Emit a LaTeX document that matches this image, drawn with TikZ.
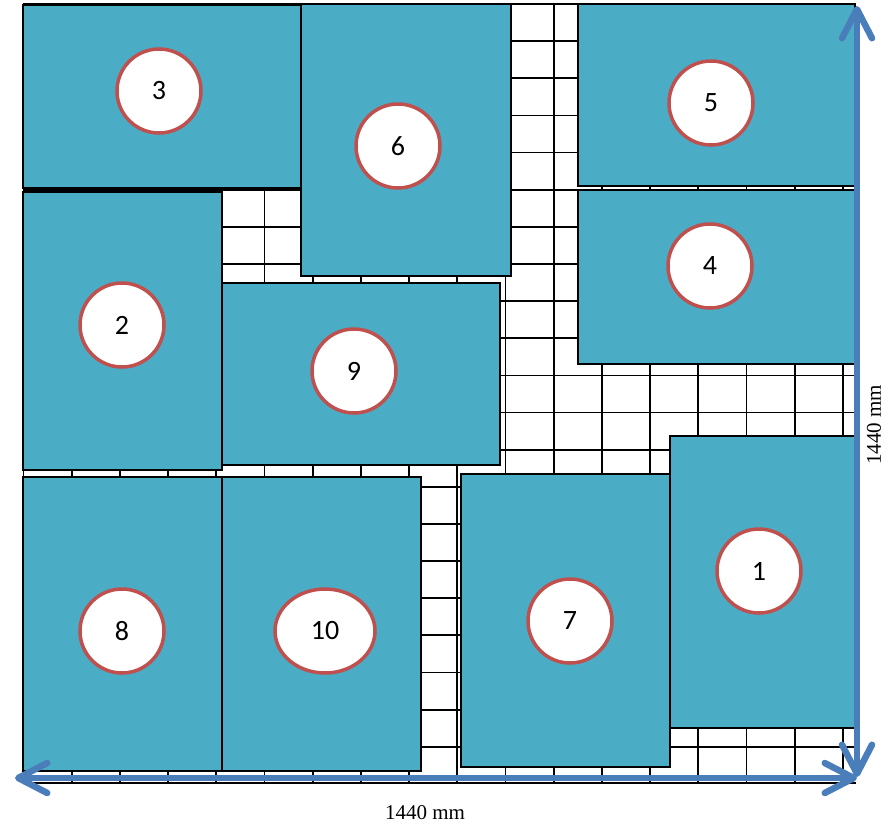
\documentclass[tikz,border=0pt]{standalone}
\usepackage{fontspec}
\newfontfamily\digitfont{Carlito}
\newfontfamily\dimfont{Liberation Serif}
\usetikzlibrary{arrows.meta, shapes.geometric}

\definecolor{panelblue}{HTML}{4BACC6}
\definecolor{ringred}{HTML}{C0504D}
\definecolor{arrowblue}{HTML}{4A7EBB}

\tikzset{
  panel/.style={draw=black, line width=1.5pt, fill=panelblue},
  tag/.style={circle, draw=ringred, line width=3.5pt, fill=white, minimum size=84pt, inner sep=0pt, font=\digitfont\fontsize{28}{30}\selectfont},
  gridline/.style={line width=1.8pt},
  barb/.tip={Straight Barb[length=29pt, width=30pt, line cap=round, line join=round]},
  dimarrow/.style={arrowblue, line width=6.5pt, line cap=round, barb-barb},
  dimlabel/.style={font=\dimfont\fontsize{21}{24}\selectfont, inner sep=0pt}
}

\begin{document}
\begin{tikzpicture}[x=1pt, y=-1pt]
    \useasboundingbox (0,0) rectangle (888,830);

    % floor grid
    \begin{scope}
        \clip (23,4) rectangle (856,783);
        \foreach \i in {0,...,17} \draw[gridline] ({23.5+48.2*\i},4) -- ++(0,779);
        \foreach \j in {0,...,21} \draw[gridline] (23,{4+37.14*\j}) -- ++(833,0);
    \end{scope}
    \draw[line width=2.8pt] (23,4) -- (856,4);
    \draw[line width=2.8pt] (23,783) -- (856,783);

    % panels
    \foreach \xa/\ya/\xb/\yb in {23/5/302/188, 301/4/511/276, 23/192/222/470, 222/283/500/465,
        578/4/855/186, 578/190/855/364, 670/436/855/728, 461/474/670/767,
        23/477/222/771, 222/477/421/771}
        \draw[panel] (\xa,\ya) rectangle (\xb,\yb);

    % numbered tags
    \node[tag] (p1) at (759,571) {1};
    \node[tag] (p2) at (122,325) {2};
    \node[tag] (p3) at (159,91) {3};
    \node[tag] (p4) at (710,266) {4};
    \node[tag] (p5) at (711,103) {5};
    \node[tag] (p6) at (398,146) {6};
    \node[tag] (p7) at (570,621) {7};
    \node[tag] (p8) at (122,631) {8};
    \node[tag] (p9) at (354,371) {9};
    \node[tag, ellipse, minimum width=100pt, minimum height=84pt] (p10) at (325,631) {10};

    % dimensions
    \coordinate (wl) at (15,778);
    \coordinate (wr) at (857,778);
    \coordinate (ht) at (857,6);
    \coordinate (hb) at (857,777);
    \draw[dimarrow] (wl) -- (wr);
    \draw[dimarrow] (ht) -- (hb);
    \node[dimlabel] (wtext) at (425,813) {1440 mm};
    \node[dimlabel, rotate=90] (htext) at (874,425) {1440 mm};
\end{tikzpicture}
\end{document}
